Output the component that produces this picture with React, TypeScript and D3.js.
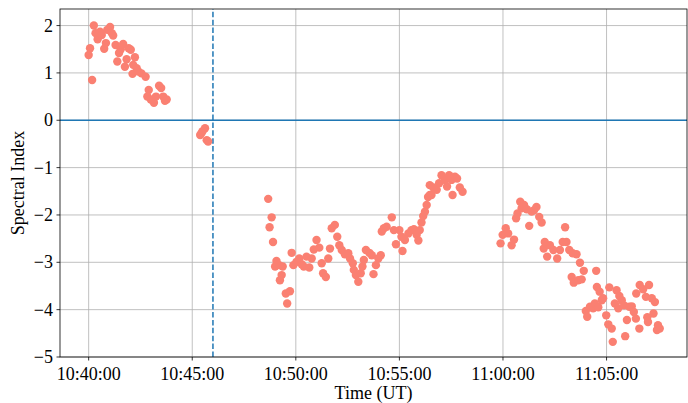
import React from "react";
import * as d3 from "d3";

// seconds after 10:40:00 UT
const secondsAfter1040: number[] = [
  0, 4, 10, 15, 20, 26, 33, 38, 45, 50, 54, 62, 67, 71, 78, 83, 88, 93, 100, 105,
  110, 116, 122, 127, 129, 134, 139, 144, 153, 165, 174, 170, 180, 189, 195, 204, 210, 216, 221, 226,
  323, 327, 330, 337, 342, 346,
  520, 524, 530, 534, 540, 544, 552, 554, 559, 562, 571, 575, 583, 588, 593, 602, 610, 617, 623, 631,
  639, 646, 652, 660, 668, 675, 679, 687, 694, 699, 704, 713, 720, 726, 733, 742, 752, 757, 765, 768,
  774, 781, 788, 793, 797, 803, 813, 820, 825, 832, 839, 846, 849, 855, 863, 878, 884, 890, 900, 906,
  909, 916, 926, 935, 942, 950, 955, 959, 964, 969, 974, 979, 983, 988, 993, 988, 998, 1008, 1015, 1022,
  1032, 1038, 1044, 1051, 1054, 1061, 1067, 1075, 1083,
  1193, 1199, 1208, 1215, 1225, 1232, 1238, 1242, 1250, 1254, 1261, 1269, 1276, 1283, 1290, 1297, 1305, 1312,
  1318, 1321, 1328, 1336, 1346, 1357, 1365, 1373, 1380, 1384, 1392, 1399, 1402, 1405, 1413, 1418, 1423, 1428,
  1434, 1440, 1444, 1452, 1461, 1466, 1470, 1472, 1476, 1480, 1486, 1490, 1499, 1505, 1508, 1515, 1518, 1524,
  1529, 1534, 1537, 1544, 1551, 1554, 1559, 1566, 1573, 1579, 1585, 1586, 1595, 1596, 1606, 1614, 1618, 1620,
  1623, 1631, 1636, 1640, 1646, 1649, 1654,
];

const spectralIndex: number[] = [
  1.38, 1.52, 0.85, 2.0, 1.84, 1.71, 1.87, 1.8, 1.51, 1.63, 1.91, 1.97, 1.84, 1.79, 1.59, 1.24, 1.42, 1.5, 1.61, 1.13,
  1.29, 1.52, 1.49, 0.98, 1.17, 1.33, 1.1, 1.03, 0.99, 0.92, 0.64, 0.5, 0.44, 0.37, 0.5, 0.73, 0.68, 0.5, 0.41, 0.44,
  -0.31, -0.27, -0.23, -0.17, -0.42, -0.45,
  -1.66, -2.26, -2.05, -2.57, -3.09, -2.97, -3.06, -3.38, -3.27, -3.09, -3.66, -3.87, -3.61, -2.8, -3.06, -2.99, -2.92, -3.04, -3.09, -2.88,
  -3.11, -2.92, -2.73, -2.53, -2.69, -3.02, -3.23, -3.31, -2.92, -2.71, -2.28, -2.21, -2.46, -2.64, -2.74, -2.83, -2.81, -2.92, -3.02, -3.16,
  -3.27, -3.41, -3.23, -3.09, -2.95, -2.74, -2.8, -2.85, -3.25, -3.06, -2.92, -2.85, -2.35, -2.28, -2.25, -2.05, -2.32, -2.62, -2.32, -2.46,
  -2.76, -2.53, -2.39, -2.32, -2.3, -2.42, -2.54, -2.32, -2.16, -2.02, -1.93, -1.79, -1.62, -1.58, -1.58, -1.37, -1.42, -1.47, -1.33, -1.16,
  -1.26, -1.4, -1.16, -1.26, -1.58, -1.19, -1.23, -1.42, -1.51,
  -2.6, -2.42, -2.28, -2.39, -2.64, -2.52, -2.07, -1.97, -1.72, -1.86, -1.79, -1.88, -2.23, -1.93, -1.9, -1.83, -2.04, -2.16,
  -2.71, -2.57, -2.88, -2.64, -2.74, -2.92, -2.74, -2.57, -2.26, -2.57, -2.74, -3.31, -2.81, -3.43, -2.83, -3.38, -3.01, -3.36,
  -3.18, -4.03, -4.15, -3.94, -3.97, -3.87, -3.18, -3.52, -3.95, -3.62, -3.8, -3.76, -4.12, -4.31, -3.53, -4.4, -4.68, -3.87,
  -3.59, -3.97, -3.71, -3.8, -3.91, -4.56, -4.22, -3.94, -3.93, -4.05, -4.19, -3.66, -4.4, -3.48, -3.57, -3.73, -4.16, -4.26,
  -3.48, -3.76, -4.08, -3.84, -4.43, -4.33, -4.4,
];

const yTicks: number[] = [-5, -4, -3, -2, -1, 0, 1, 2];
const xTickLabels: string[] = ["10:40:00", "10:45:00", "10:50:00", "10:55:00", "11:00:00", "11:05:00"];
const markerLineSeconds = 360; // 10:46:00
const yDomain: [number, number] = [-5, 2.35];
const xDomainSeconds: [number, number] = [-83, 1733];

const BASE = Date.UTC(2020, 0, 1, 10, 40, 0);
const toDate = (s: number) => new Date(BASE + s * 1000);

const W = 688;
const H = 403;
const M = { left: 60, right: 1, top: 9, bottom: 46 };
const FONT = "Liberation Serif, Times New Roman, DejaVu Serif, serif";
const textStyle: React.CSSProperties = { fontFamily: FONT, fontSize: "18px" };

export default function App() {
  const x = d3
    .scaleUtc()
    .domain(xDomainSeconds.map(toDate) as [Date, Date])
    .range([M.left, W - M.right]);
  const y = d3.scaleLinear().domain(yDomain).range([H - M.bottom, M.top]);
  const fmt = d3.utcFormat("%H:%M:%S");
  const xTicks = xTickLabels.map((l) => {
    const [hh, mm, ss] = l.split(":").map(Number);
    return new Date(Date.UTC(2020, 0, 1, hh, mm, ss));
  });
  const points = secondsAfter1040.map((s, i) => ({ t: toDate(s), v: spectralIndex[i] }));
  const x0 = M.left;
  const x1 = W - M.right;
  const y0 = H - M.bottom;
  const y1 = M.top;

  return (
    <svg width={W} height={H} style={{ position: "absolute", left: 0, top: 0, background: "#fff" }}>
      <rect x={0} y={0} width={W} height={H} fill="#fff" />
      {xTicks.map((d, i) => (
        <line key={"gx" + i} x1={x(d)} x2={x(d)} y1={y0} y2={y1} stroke="#b0b0b0" strokeWidth={0.8} />
      ))}
      {yTicks.map((d, i) => (
        <line key={"gy" + i} x1={x0} x2={x1} y1={y(d)} y2={y(d)} stroke="#b0b0b0" strokeWidth={0.8} />
      ))}
      <line x1={x0} x2={x1} y1={y(0)} y2={y(0)} stroke="#1f77b4" strokeWidth={1.5} />
      <line
        x1={x(toDate(markerLineSeconds))}
        x2={x(toDate(markerLineSeconds))}
        y1={y0}
        y2={y1}
        stroke="#1f77b4"
        strokeWidth={1.5}
        strokeDasharray="5.5,2.4"
      />
      {points.map((p, i) => (
        <circle key={"p" + i} cx={x(p.t)} cy={y(p.v)} r={4.2} fill="#fa8072" />
      ))}
      <rect x={x0} y={y1} width={x1 - x0} height={y0 - y1} fill="none" stroke="#000" strokeWidth={0.8} />
      {xTicks.map((d, i) => (
        <g key={"xt" + i} transform={`translate(${x(d)},${y0})`}>
          <line y1={0} y2={3.5} stroke="#000" strokeWidth={0.8} />
          <text y={23} textAnchor="middle" style={textStyle} fill="#000">
            {fmt(d)}
          </text>
        </g>
      ))}
      {yTicks.map((d, i) => (
        <g key={"yt" + i} transform={`translate(${x0},${y(d)})`}>
          <line x1={0} x2={-3.5} stroke="#000" strokeWidth={0.8} />
          <text x={-7} dy="0.33em" textAnchor="end" style={textStyle} fill="#000">
            {d < 0 ? "\u2212" + Math.abs(d) : String(d)}
          </text>
        </g>
      ))}
      <text x={(x0 + x1) / 2} y={399} textAnchor="middle" style={textStyle} fill="#000">
        Time (UT)
      </text>
      <text
        transform={`translate(24,${(y0 + y1) / 2}) rotate(-90)`}
        textAnchor="middle"
        style={textStyle}
        fill="#000"
      >
        Spectral Index
      </text>
    </svg>
  );
}
